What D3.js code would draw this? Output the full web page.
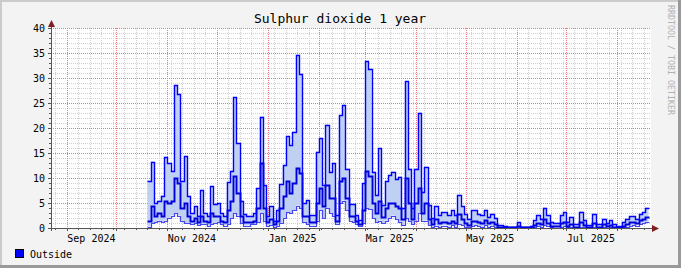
<!DOCTYPE html>
<html>
<head>
<meta charset="utf-8">
<script src="https://cdn.jsdelivr.net/npm/d3@7/dist/d3.min.js"></script>
<style>
  body { margin: 0; background: #f3f3f3; }
  svg { display: block; }
</style>
</head>
<body>
<div id="chart"></div>
<script>
// daily readings consolidated in 2 day steps, starting 20 Oct 2024
var seriesStart = new Date(2024, 9, 20);
var stepDays = 2;

var maxValues = [
  9.5, 13.3, 5, 5.5, 6.5, 14.2, 13, 11.5, 28.6, 26.8,
  9.3, 14.3, 6.5, 3, 4.3, 2.5, 7.6, 3, 2.5, 8.4,
  4.8, 5, 3, 2.5, 9.2, 11.5, 26.1, 17, 5.5, 2.8,
  2.5, 2.5, 3, 8, 22.3, 8.6, 2.5, 4.3, 1.5, 3.5,
  8.8, 12.6, 18.4, 16.6, 19.3, 34.6, 30.9, 5, 5.6, 2.6,
  2.6, 15.3, 18, 8.6, 20.7, 11.3, 13, 2.6, 22.6, 24.6,
  11.9, 4.9, 4.9, 2.6, 1.6, 8.9, 33.4, 31.9, 11.3, 6.6,
  16, 4.6, 9.3, 10.6, 11.3, 9.9, 10.3, 3.9, 29.4, 11.9,
  3.9, 11.9, 23.1, 7.3, 12.3, 4.6, 2, 4.3, 2.6, 3.2,
  3.2, 2.6, 3.6, 2.6, 6.7, 4.3, 2.9, 1.9, 3.6, 3.6,
  2.9, 2.6, 3.7, 2.3, 2.9, 2.1, 0.6, 0.6, 0.4, 0.3,
  0.3, 0.3, 1.2, 0.3, 0.3, 0.3, 0.5, 1.6, 2.6, 1.9,
  4.1, 2.6, 1.3, 1.1, 1.1, 2.6, 3.1, 1.3, 2.3, 0.8,
  0.8, 3.3, 1.7, 0.6, 0.6, 2.9, 0.8, 0.8, 1.9, 1.1,
  1.6, 0.8, 0.4, 0.4, 1.3, 1.9, 2.4, 2.4, 1.9, 2.9,
  3.1, 4.1
];

var avgValues = [
  1.5, 4.5, 2.5, 3, 2.5, 5.5, 5, 5.5, 10, 9,
  4, 5, 2.5, 1.5, 2, 1.2, 2.5, 1.5, 1.2, 3,
  2.5, 2.5, 1.5, 1.2, 3.5, 5.5, 10.5, 7, 2.5, 1.2,
  1.2, 1.2, 1.5, 4, 13, 4, 1.2, 1.8, 0.8, 1.5,
  4, 6.5, 9.5, 7, 9, 12, 11, 2.5, 2.5, 1.2,
  1.2, 5, 8, 4.5, 8.5, 6, 6, 1.5, 9.5, 10,
  6, 2.5, 2.5, 1.5, 0.8, 3.5, 11.5, 10.5, 5, 3,
  5.5, 2.2, 4, 5, 5, 4.5, 4, 1.8, 10, 5,
  1.8, 5, 8, 3, 5, 1.8, 0.8, 1.8, 1, 1.2,
  1.2, 1, 1.5, 1, 2.8, 1.8, 1, 0.7, 1.5, 1.5,
  1.2, 1, 1.6, 1, 1.2, 0.8, 0.2, 0.2, 0.2, 0.15,
  0.15, 0.15, 0.4, 0.15, 0.15, 0.15, 0.25, 0.6, 1, 0.8,
  1.8, 1, 0.5, 0.4, 0.4, 1, 1.2, 0.5, 0.8, 0.3,
  0.3, 1.2, 0.6, 0.25, 0.25, 1, 0.3, 0.3, 0.8, 0.4,
  0.6, 0.3, 0.2, 0.2, 0.5, 0.8, 1.2, 1.2, 1, 1.6,
  1.8, 2.2
];

var minValues = [
  0.3, 1, 1.2, 1.5, 1.2, 1.5, 2, 2.5, 3, 2.5,
  1.5, 1, 1, 0.8, 1, 0.6, 0.8, 0.8, 0.5, 0.8,
  1, 1.2, 0.8, 0.5, 0.8, 2, 3, 2.5, 1, 0.5,
  0.5, 0.8, 0.8, 1.2, 3, 1.5, 0.5, 0.6, 0.3, 0.5,
  1, 2, 3.2, 3, 3.5, 4.5, 4, 1.2, 0.8, 0.5,
  0.5, 1.5, 3.5, 2, 4, 3, 2.5, 0.8, 5, 5.5,
  3.5, 1.5, 1.2, 0.8, 0.4, 1, 4, 3.8, 2, 1.2,
  1.5, 1, 1.5, 2, 2.5, 1.8, 1.2, 0.6, 2, 1.5,
  0.8, 1.5, 3, 1.5, 1.5, 0.6, 0.3, 0.5, 0.3, 0.5,
  0.5, 0.3, 0.6, 0.3, 0.8, 0.6, 0.3, 0.2, 0.5, 0.6,
  0.4, 0.3, 0.6, 0.3, 0.4, 0.2, 0.1, 0.1, 0.1, 0.1,
  0.1, 0.1, 0.1, 0.1, 0.1, 0.1, 0.1, 0.2, 0.4, 0.3,
  0.6, 0.4, 0.2, 0.1, 0.1, 0.3, 0.4, 0.2, 0.3, 0.1,
  0.1, 0.3, 0.2, 0.1, 0.1, 0.3, 0.1, 0.1, 0.2, 0.1,
  0.2, 0.1, 0.1, 0.1, 0.2, 0.3, 0.5, 0.6, 0.5, 0.8,
  1, 1.2
];

var yTicks = [0, 5, 10, 15, 20, 25, 30, 35, 40];
var labelMonthNums = [8, 10, 0, 2, 4, 6];
var title = "Sulphur dioxide 1 year";
var legendLabel = "Outside";
var watermark = "RRDTOOL / TOBI OETIKER";

function draw() {
  var W = 681, H = 268;
  var pLeft = 51, pRight = 651, pTop = 28, pBottom = 228;
  var mono = "'DejaVu Sans Mono', monospace";

  var svg = d3.select("#chart").append("svg")
    .attr("width", W).attr("height", H);

  // frame
  svg.append("rect").attr("width", W).attr("height", H).attr("fill", "#f3f3f3");
  svg.append("path").attr("d", "M1,268 V1 H681").attr("fill", "none")
    .attr("stroke", "#cbcbcb").attr("stroke-width", 2);
  svg.append("path").attr("d", "M0,266.5 H679.5 V0").attr("fill", "none")
    .attr("stroke", "#999").attr("stroke-width", 3);

  var x = d3.scaleTime()
    .domain([new Date(2024, 7, 22, 12), new Date(2025, 7, 21, 12)])
    .range([pLeft, pRight]);
  var y = d3.scaleLinear().domain([0, 40]).range([pBottom, pTop]);

  svg.append("rect").attr("x", pLeft).attr("y", pTop)
    .attr("width", pRight - pLeft).attr("height", pBottom - pTop).attr("fill", "#fff");

  var grid = svg.append("g").attr("shape-rendering", "crispEdges");
  var minorCol = "#d0d0d0", majorCol = "#ee7878";

  var months = d3.timeMonth.range(x.domain()[0], x.domain()[1]);
  var monthPx = months.map(function (d) { return Math.round(x(d)); });
  var weeks = d3.timeWeek.range(x.domain()[0], x.domain()[1]);

  // vertical dotted line drawn as 1px dots, so every line looks the same
  function vdots(px, col) {
    d3.range(pTop, pBottom, 2).forEach(function (py) {
      grid.append("rect").attr("x", px).attr("y", py).attr("width", 1).attr("height", 1).attr("fill", col);
    });
  }

  // minor grid
  d3.range(0, 41, 1).forEach(function (v) {
    if (v % 5 == 0) return;
    var py = Math.round(y(v)) + 0.5;
    grid.append("line").attr("x1", pLeft).attr("x2", pRight).attr("y1", py).attr("y2", py)
      .attr("stroke", minorCol).attr("stroke-dasharray", "1,1");
  });
  weeks.forEach(function (d) {
    var p = Math.round(x(d));
    if (monthPx.some(function (m) { return Math.abs(m - p) < 3; })) return;
    vdots(p, minorCol);
  });

  // major grid
  yTicks.forEach(function (v) {
    var py = Math.round(y(v)) + 0.5;
    grid.append("line").attr("x1", pLeft).attr("x2", pRight).attr("y1", py).attr("y2", py)
      .attr("stroke", majorCol).attr("stroke-dasharray", "1,1");
  });
  monthPx.forEach(function (p) { vdots(p, majorCol); });

  // data
  var rows = maxValues.map(function (v, i) {
    return { date: d3.timeDay.offset(seriesStart, i * stepDays), max: v, avg: avgValues[i], min: minValues[i] };
  });
  var last = rows[rows.length - 1];
  rows.push({ date: d3.timeDay.offset(last.date, stepDays), max: last.max, avg: last.avg, min: last.min });

  var area = d3.area().curve(d3.curveStepAfter)
    .x(function (d) { return x(d.date); })
    .y0(function (d) { return y(d.min); })
    .y1(function (d) { return y(d.max); });
  svg.append("path").datum(rows).attr("d", area).attr("fill", "#c0d0f2");

  function line(key) {
    return d3.line().curve(d3.curveStepAfter)
      .x(function (d) { return Math.round(x(d.date)) + 0.5; })
      .y(function (d) { return Math.round(y(d[key])) + 0.5; });
  }
  svg.append("path").datum(rows).attr("d", line("min")).attr("fill", "none")
    .attr("stroke", "#4646f0").attr("stroke-width", 1.2);
  svg.append("path").datum(rows).attr("d", line("avg")).attr("fill", "none")
    .attr("stroke", "#0000dc").attr("stroke-width", 1.9);
  svg.append("path").datum(rows).attr("d", line("max")).attr("fill", "none")
    .attr("stroke", "#0000ff").attr("stroke-width", 1.4);

  // axes
  var ax = svg.append("g").attr("shape-rendering", "crispEdges").attr("stroke", "#555");
  ax.append("line").attr("x1", pLeft - 3).attr("x2", pRight + 2).attr("y1", pBottom + 0.5).attr("y2", pBottom + 0.5);
  ax.append("line").attr("x1", pLeft + 0.5).attr("x2", pLeft + 0.5).attr("y1", pBottom + 3).attr("y2", pTop - 2);
  d3.range(0, 41, 1).forEach(function (v) {
    var py = Math.round(y(v)) + 0.5;
    ax.append("line").attr("x1", pLeft - (v % 5 == 0 ? 3 : 2)).attr("x2", pLeft).attr("y1", py).attr("y2", py);
  });
  weeks.forEach(function (d) {
    var px = Math.round(x(d)) + 0.5;
    ax.append("line").attr("x1", px).attr("x2", px).attr("y1", pBottom).attr("y2", pBottom + 2);
  });
  monthPx.forEach(function (p) {
    ax.append("line").attr("x1", p + 0.5).attr("x2", p + 0.5).attr("y1", pBottom).attr("y2", pBottom + 3);
  });
  svg.append("path").attr("d", "M" + (pLeft - 3) + "," + (pTop - 1) + " L" + (pLeft + 0.5) + "," + (pTop - 8) + " L" + (pLeft + 4) + "," + (pTop - 1) + " z")
    .attr("fill", "#7f1f1f");
  svg.append("path").attr("d", "M" + (pRight + 1) + "," + (pBottom - 3) + " L" + (pRight + 8) + "," + (pBottom + 0.5) + " L" + (pRight + 1) + "," + (pBottom + 4) + " z")
    .attr("fill", "#7f1f1f");

  // labels
  svg.selectAll(".ylab").data(yTicks).enter().append("text")
    .attr("x", 45).attr("y", function (d) { return y(d) + 3.5; })
    .attr("text-anchor", "end").attr("font-family", mono).attr("font-size", 10)
    .attr("fill", "#000").text(function (d) { return d; });

  var labelMonths = months.filter(function (d) { return labelMonthNums.indexOf(d.getMonth()) >= 0; });
  svg.selectAll(".xlab").data(labelMonths).enter().append("text")
    .attr("x", function (d) { return x(d3.timeDay.offset(d, 15)); }).attr("y", 242)
    .attr("text-anchor", "middle").attr("font-family", mono).attr("font-size", 10)
    .attr("fill", "#000").text(d3.timeFormat("%b %Y"));

  svg.append("text").attr("x", 340).attr("y", 23).attr("text-anchor", "middle")
    .attr("font-family", mono).attr("font-size", 13).attr("fill", "#000").text(title);

  svg.append("rect").attr("x", 15.5).attr("y", 249.5).attr("width", 8).attr("height", 8)
    .attr("fill", "#0000ff").attr("stroke", "#000");
  svg.append("text").attr("x", 30).attr("y", 257.5).attr("font-family", mono)
    .attr("font-size", 10).attr("fill", "#000").text(legendLabel);

  svg.append("text").attr("transform", "translate(668,5) rotate(90)")
    .attr("font-family", mono).attr("font-size", 8.3).attr("fill", "#b0b0b0").text(watermark);
}

draw();
</script>
</body>
</html>
